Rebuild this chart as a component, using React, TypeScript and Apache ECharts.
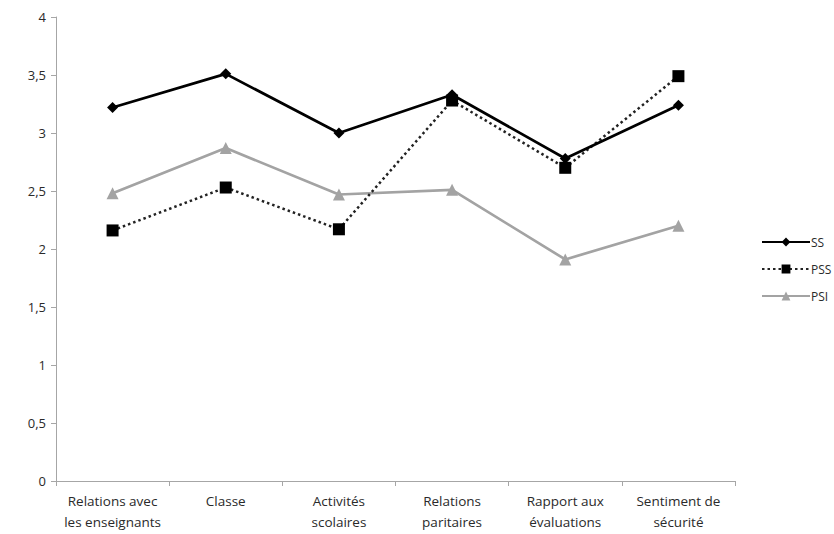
import React, { useEffect, useRef } from "react";
import * as echarts from "echarts";

const categories = [
  "Relations avec\nles enseignants",
  "Classe",
  "Activités\nscolaires",
  "Relations\nparitaires",
  "Rapport aux\névaluations",
  "Sentiment de\nsécurité",
];
const ssValues = [3.22, 3.51, 3.0, 3.33, 2.78, 3.24];
const pssValues = [2.16, 2.53, 2.17, 3.28, 2.7, 3.49];
const psiValues = [2.48, 2.87, 2.47, 2.51, 1.91, 2.2];

const FONT = "'Open Sans', 'Liberation Sans', sans-serif";

export default function App() {
  const ref = useRef<HTMLDivElement>(null);
  useEffect(() => {
    if (!ref.current) return;
    const chart = echarts.init(ref.current, undefined, { renderer: "svg" });
    chart.setOption({
      animation: false,
      backgroundColor: "#fff",
      textStyle: { fontFamily: FONT },
      grid: { left: 56, right: 99, top: 17, bottom: 53, containLabel: false },
      legend: {
        orient: "vertical",
        left: 756,
        top: 231,
        itemWidth: 48,
        itemHeight: 11,
        itemGap: 15,
        textStyle: { fontSize: 12, color: "#2a2a2a", fontFamily: FONT, padding: [0, 0, 0, -4] },
        data: ["SS", "PSS", "PSI"],
      },
      xAxis: {
        type: "category",
        data: categories,
        boundaryGap: true,
        axisLine: { lineStyle: { color: "#a6a6a6", width: 1 } },
        axisTick: { show: true, interval: 0, length: 5, lineStyle: { color: "#a6a6a6" } },
        axisLabel: { interval: 0, color: "#2a2a2a", fontSize: 13.5, lineHeight: 21, margin: 9, fontFamily: FONT },
      },
      yAxis: {
        type: "value",
        min: 0,
        max: 4,
        interval: 0.5,
        splitLine: { show: false },
        axisLine: { show: true, lineStyle: { color: "#a6a6a6", width: 1 } },
        axisTick: { show: true, length: 5, lineStyle: { color: "#a6a6a6" } },
        axisLabel: {
          color: "#2a2a2a",
          fontSize: 13,
          margin: 10,
          fontFamily: FONT,
          formatter: (v: number) => String(v).replace(".", ","),
        },
      },
      series: [
        {
          name: "SS",
          type: "line",
          data: ssValues,
          symbol: "diamond",
          symbolSize: 11,
          itemStyle: { color: "#000" },
          lineStyle: { color: "#000", width: 2.7 },
          z: 3,
        },
        {
          name: "PSS",
          type: "line",
          data: pssValues,
          symbol: "rect",
          symbolSize: 12,
          itemStyle: { color: "#000" },
          lineStyle: { color: "#222", width: 2.5, type: [2.5, 3] },
          z: 2,
        },
        {
          name: "PSI",
          type: "line",
          data: psiValues,
          symbol: "triangle",
          symbolSize: 12,
          itemStyle: { color: "#a3a3a3" },
          lineStyle: { color: "#a3a3a3", width: 2.7 },
          z: 1,
        },
      ],
    });
    return () => chart.dispose();
  }, []);
  return <div ref={ref} style={{ width: 834, height: 534, position: "absolute", left: 0, top: 0 }} />;
}
